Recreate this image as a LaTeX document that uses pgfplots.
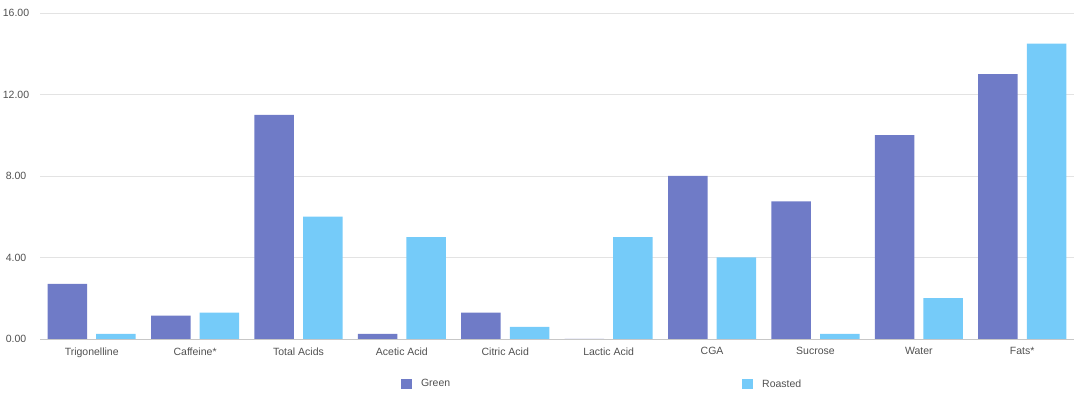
\documentclass[border=0pt]{standalone}
\usepackage{pgfplots}
\pgfplotsset{compat=1.18}
\usepackage{fontspec}
\setmainfont{Liberation Sans}
\definecolor{cgreen}{RGB}{111,123,199}
\definecolor{croast}{RGB}{117,203,249}
\definecolor{ctext}{RGB}{80,80,80}
\begin{document}
\begin{tikzpicture}
\path[use as bounding box] (0pt,0pt) rectangle (1080pt,398pt);
\begin{axis}[
  at={(40pt,59pt)}, anchor=south west,
  scale only axis, width=1034pt, height=326pt,
  xmin=-0.5, xmax=9.5, ymin=0, ymax=16,
  xtick={0,...,9},
  xticklabels={Trigonelline,Caffeine*,Total Acids,Acetic Acid,Citric Acid,Lactic Acid,CGA,Sucrose,Water,Fats*},
  ytick={4,8,12,16},
  extra y ticks={0},
  extra y tick style={grid style={color=black!22, line width=0.8pt}},
  ymajorgrids,
  grid style={color=black!11, line width=0.6pt},
  axis line style={draw=none},
  major tick length=0pt,
  tick label style={font=\fontsize{10.5}{12}\selectfont, text=ctext},
  /pgf/number format/assume math mode=true,
  yticklabel={\pgfmathprintnumber[fixed,fixed zerofill,precision=2]{\tick}},
  yticklabel style={anchor=center, xshift=-24pt},
  xticklabel style={yshift=-5pt},
  legend columns=2,
  legend style={draw=none, fill=none, inner sep=0pt, at={(0.349,-0.138)}, anchor=west,
    font=\fontsize{10.5}{12}\selectfont, text=ctext,
    /tikz/every odd column/.append style={column sep=7pt},
    /tikz/every even column/.append style={column sep=290pt}},
  legend image code/.code={\fill[#1] (0pt,-5pt) rectangle (11pt,5pt);},
]
\addplot[ybar, bar width=0.382, bar shift=-0.235, fill=cgreen, draw=none] coordinates {
(0,2.7) (1,1.15) (2,11) (3,0.25) (4,1.3) (5,0) (6,8) (7,6.75) (8,10) (9,13)};
\addlegendentry{Green}
\addplot[ybar, bar width=0.382, bar shift=0.235, fill=croast, draw=none] coordinates {
(0,0.25) (1,1.3) (2,6) (3,5) (4,0.6) (5,5) (6,4) (7,0.25) (8,2) (9,14.5)};
\addlegendentry{Roasted}
\end{axis}
\end{tikzpicture}
\end{document}
